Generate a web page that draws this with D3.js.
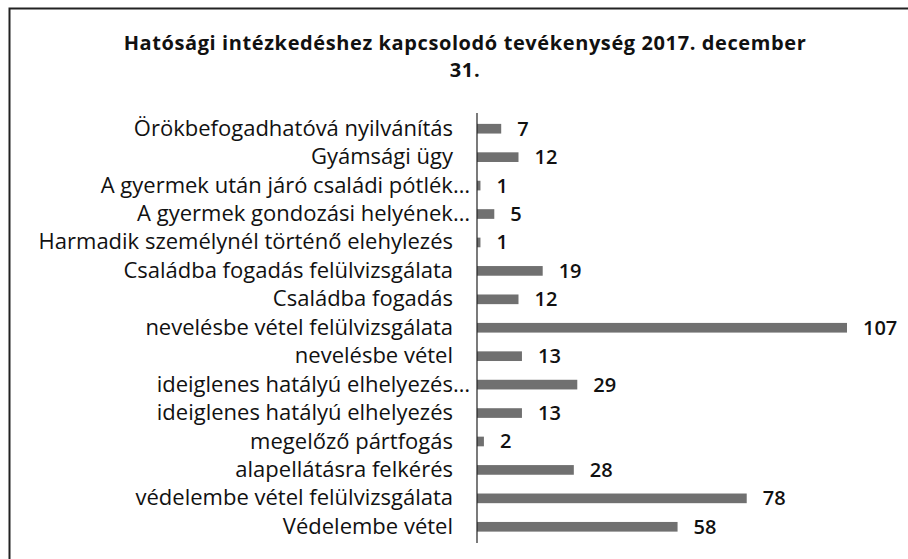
<!DOCTYPE html>
<html>
<head>
<meta charset="utf-8">
<script src="https://cdn.jsdelivr.net/npm/d3@7"></script>
<style>
  html, body { margin: 0; padding: 0; background: #fff; }
  svg { display: block; }
</style>
</head>
<body>
<svg id="chart" width="908" height="559"></svg>
<script>
const titleLines = ["Hatósági intézkedéshez kapcsolodó tevékenység 2017. december", "31."];
const categories = [
  "Örökbefogadhatóvá nyilvánítás",
  "Gyámsági ügy",
  "A gyermek után járó családi pótlék…",
  "A gyermek gondozási helyének…",
  "Harmadik személynél történő elehylezés",
  "Családba fogadás felülvizsgálata",
  "Családba fogadás",
  "nevelésbe vétel felülvizsgálata",
  "nevelésbe vétel",
  "ideiglenes hatályú elhelyezés…",
  "ideiglenes hatályú elhelyezés",
  "megelőző pártfogás",
  "alapellátásra felkérés",
  "védelembe vétel felülvizsgálata",
  "Védelembe vétel"
];
const values = [7, 12, 1, 5, 1, 19, 12, 107, 13, 29, 13, 2, 28, 78, 58];

const svg = d3.select("#chart");
const font = "'Open Sans', Lato, sans-serif";

// frame (top and left edges visible)
svg.append("path")
  .attr("d", "M9.5,559 L9.5,8.5 L908,8.5")
  .attr("fill", "none").attr("stroke", "#222").attr("stroke-width", 2);

// title
svg.append("text")
  .attr("x", 465).attr("y", 50)
  .attr("text-anchor", "middle")
  .attr("font-family", font).attr("font-weight", "bold")
  .attr("font-size", 20).attr("letter-spacing", 0.6).attr("fill", "#111")
  .selectAll("tspan").data(titleLines).join("tspan")
  .attr("x", 465).attr("dy", (d, i) => i === 0 ? 0 : 27)
  .text(d => d);

const x = d3.scaleLinear().domain([0, 107]).range([477, 847]);
const y = d3.scaleBand().domain(categories).range([114.5, 541]).paddingInner(0.66).paddingOuter(0.33);

// bars
svg.append("g").selectAll("rect").data(categories).join("rect")
  .attr("x", x(0))
  .attr("y", d => y(d))
  .attr("width", (d, i) => x(values[i]) - x(0))
  .attr("height", y.bandwidth())
  .attr("fill", "#707070");

// axis
const axis = d3.axisLeft(y).tickSize(0).tickPadding(8);
const gAxis = svg.append("g").attr("transform", `translate(${x(0)},0)`).call(axis);
gAxis.select(".domain").attr("stroke", "#222").attr("stroke-width", 1.2)
  .attr("d", "M0,113V543");
gAxis.selectAll(".tick text")
  .attr("font-family", font).attr("font-size", 22).attr("fill", "#111")
  .attr("x", d => d.endsWith("…") ? -7 : -24);

// value labels
svg.append("g").selectAll("text").data(categories).join("text")
  .attr("x", (d, i) => x(values[i]) + 16)
  .attr("y", d => y(d) + y.bandwidth() / 2)
  .attr("dy", "0.35em")
  .attr("font-family", font).attr("font-size", 20).attr("font-weight", 600)
  .attr("fill", "#111")
  .text((d, i) => values[i]);
</script>
</body>
</html>
